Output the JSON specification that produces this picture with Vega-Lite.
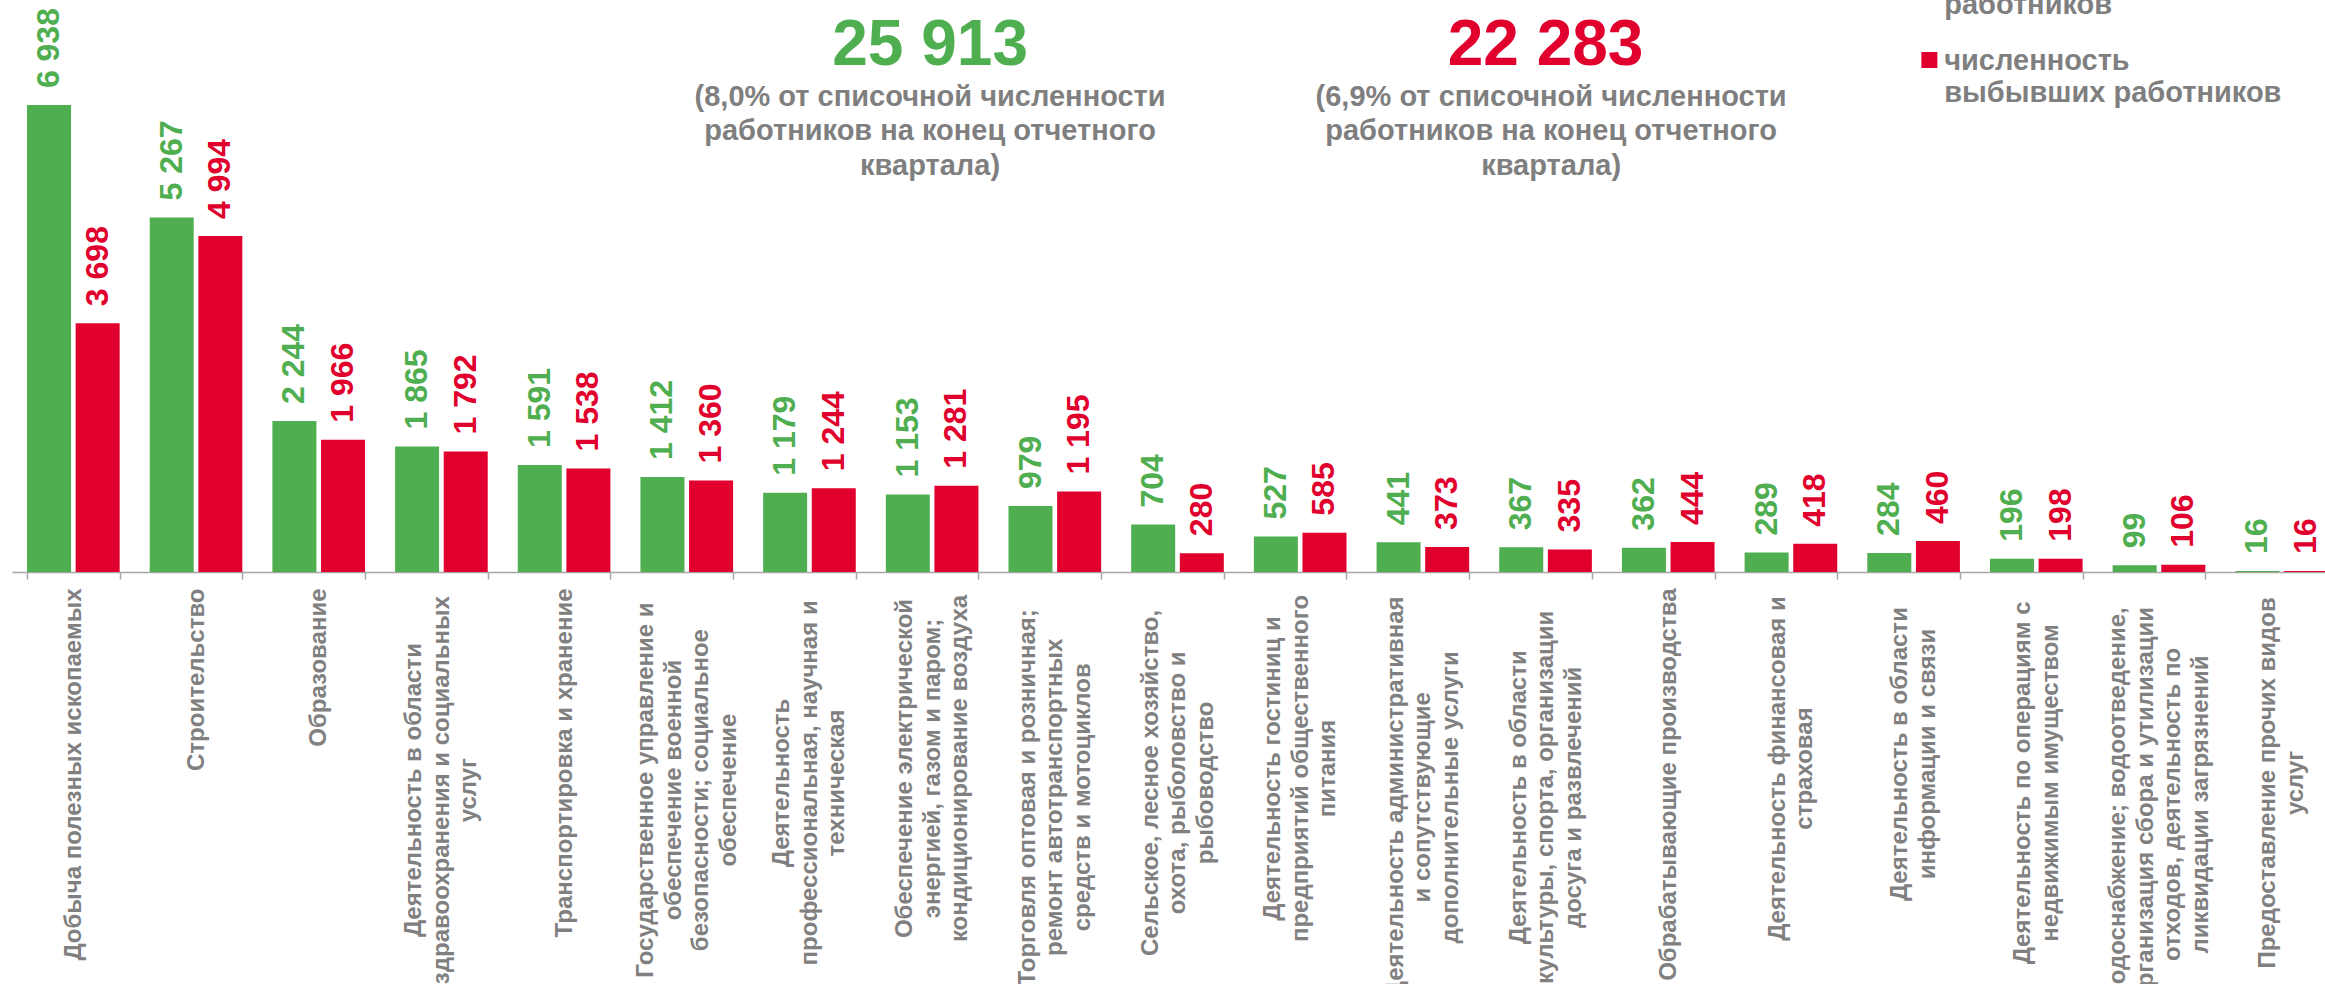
{
  "$schema": "https://vega.github.io/schema/vega-lite/v6.json",
  "width": 2313,
  "height": 572,
  "autosize": {"type": "none"},
  "padding": {"left": 12, "top": 0, "right": 0, "bottom": 412},
  "background": "white",
  "config": {
    "view": {"stroke": null},
    "font": "Liberation Sans",
    "locale": {"number": {"decimal": ",", "thousands": " ", "grouping": [3], "currency": ["", ""]}}
  },
  "data": {
    "values": [
      {"category": "Добыча полезных ископаемых", "series": "принятые", "value": 6938},
      {"category": "Добыча полезных ископаемых", "series": "выбывшие", "value": 3698},
      {"category": "Строительство", "series": "принятые", "value": 5267},
      {"category": "Строительство", "series": "выбывшие", "value": 4994},
      {"category": "Образование", "series": "принятые", "value": 2244},
      {"category": "Образование", "series": "выбывшие", "value": 1966},
      {"category": "Деятельность  в области\nздравоохранения и социальных\nуслуг", "series": "принятые", "value": 1865},
      {"category": "Деятельность  в области\nздравоохранения и социальных\nуслуг", "series": "выбывшие", "value": 1792},
      {"category": "Транспортировка и хранение", "series": "принятые", "value": 1591},
      {"category": "Транспортировка и хранение", "series": "выбывшие", "value": 1538},
      {"category": "Государственное управление и\nобеспечение военной\nбезопасности; социальное\nобеспечение", "series": "принятые", "value": 1412},
      {"category": "Государственное управление и\nобеспечение военной\nбезопасности; социальное\nобеспечение", "series": "выбывшие", "value": 1360},
      {"category": "Деятельность\nпрофессиональная, научная и\nтехническая", "series": "принятые", "value": 1179},
      {"category": "Деятельность\nпрофессиональная, научная и\nтехническая", "series": "выбывшие", "value": 1244},
      {"category": "Обеспечение электрической\nэнергией, газом и паром;\nкондиционирование воздуха", "series": "принятые", "value": 1153},
      {"category": "Обеспечение электрической\nэнергией, газом и паром;\nкондиционирование воздуха", "series": "выбывшие", "value": 1281},
      {"category": "Торговля оптовая и розничная;\nремонт автотранспортных\nсредств и мотоциклов", "series": "принятые", "value": 979},
      {"category": "Торговля оптовая и розничная;\nремонт автотранспортных\nсредств и мотоциклов", "series": "выбывшие", "value": 1195},
      {"category": "Сельское, лесное хозяйство,\nохота, рыболовство и\nрыбоводство", "series": "принятые", "value": 704},
      {"category": "Сельское, лесное хозяйство,\nохота, рыболовство и\nрыбоводство", "series": "выбывшие", "value": 280},
      {"category": "Деятельность гостиниц и\nпредприятий общественного\nпитания", "series": "принятые", "value": 527},
      {"category": "Деятельность гостиниц и\nпредприятий общественного\nпитания", "series": "выбывшие", "value": 585},
      {"category": "Деятельность административная\nи сопутствующие\nдополнительные услуги", "series": "принятые", "value": 441},
      {"category": "Деятельность административная\nи сопутствующие\nдополнительные услуги", "series": "выбывшие", "value": 373},
      {"category": "Деятельность  в области\nкультуры, спорта, организации\nдосуга и развлечений", "series": "принятые", "value": 367},
      {"category": "Деятельность  в области\nкультуры, спорта, организации\nдосуга и развлечений", "series": "выбывшие", "value": 335},
      {"category": "Обрабатывающие производства", "series": "принятые", "value": 362},
      {"category": "Обрабатывающие производства", "series": "выбывшие", "value": 444},
      {"category": "Деятельность финансовая и\nстраховая", "series": "принятые", "value": 289},
      {"category": "Деятельность финансовая и\nстраховая", "series": "выбывшие", "value": 418},
      {"category": "Деятельность  в области\nинформации и связи", "series": "принятые", "value": 284},
      {"category": "Деятельность  в области\nинформации и связи", "series": "выбывшие", "value": 460},
      {"category": "Деятельность по операциям с\nнедвижимым имуществом", "series": "принятые", "value": 196},
      {"category": "Деятельность по операциям с\nнедвижимым имуществом", "series": "выбывшие", "value": 198},
      {"category": "Водоснабжение; водоотведение,\nорганизация сбора и утилизации\nотходов, деятельность по\nликвидации загрязнений", "series": "принятые", "value": 99},
      {"category": "Водоснабжение; водоотведение,\nорганизация сбора и утилизации\nотходов, деятельность по\nликвидации загрязнений", "series": "выбывшие", "value": 106},
      {"category": "Предоставление прочих видов\nуслуг", "series": "принятые", "value": 16},
      {"category": "Предоставление прочих видов\nуслуг", "series": "выбывшие", "value": 16}
    ]
  },
  "layer": [
    {
      "mark": {"type": "bar"},
      "encoding": {
        "x": {
          "field": "category", "type": "nominal", "sort": null,
          "scale": {"range": [0, 2331], "paddingInner": 0.245, "paddingOuter": 0.1225},
          "axis": {
            "title": null,
            "labelAngle": -90,
            "labelAlign": {
              "condition": {"test": "indexof(datum.label, '\\n') < 0", "value": "right"},
              "value": "center"
            },
            "labelBaseline": "middle",
            "labelFont": "Liberation Sans",
            "labelFontSize": 24,
            "labelFontWeight": "bold",
            "labelColor": "#808080",
            "labelLineHeight": 27.5,
            "labelExpr": "split(datum.label, '\\n')",
            "labelOffset": {
              "condition": [
                {"test": "length(split(datum.label, '\\n')) == 2", "value": -13.75},
                {"test": "length(split(datum.label, '\\n')) == 3", "value": -27.5},
                {"test": "length(split(datum.label, '\\n')) == 4", "value": -41.25}
              ],
              "value": 0
            },
            "labelPadding": {
              "expr": "indexof(datum.label, '\\n') < 0 ? 9 : 9 + 7.2 * max(length(split(datum.label, '\\n')[0]), length(split(datum.label, '\\n')[1] || ''), length(split(datum.label, '\\n')[2] || ''), length(split(datum.label, '\\n')[3] || ''))"
            },
            "labelLimit": 0,
            "labelOverlap": false,
            "labelBound": false,
            "labelFlush": false,
            "tickBand": "extent",
            "tickSize": 7,
            "tickColor": "#a6a6a6",
            "tickWidth": 1.5,
            "domainColor": "#a6a6a6",
            "domainWidth": 1.5,
            "grid": false
          }
        },
        "xOffset": {
          "field": "series", "type": "nominal", "sort": ["принятые", "выбывшие"],
          "scale": {"paddingInner": 0.095, "paddingOuter": 0}
        },
        "y": {
          "field": "value", "type": "quantitative",
          "scale": {"domain": [0, 8500], "nice": false, "zero": true},
          "axis": null
        },
        "color": {
          "field": "series", "type": "nominal",
          "scale": {"domain": ["принятые", "выбывшие"], "range": ["#4FAE50", "#E1002D"]},
          "legend": null
        }
      }
    },
    {
      "mark": {"type": "text", "angle": 270, "align": "left", "baseline": "middle", "dx": 17, "fontSize": 32, "fontWeight": "bold", "font": "Liberation Sans"},
      "encoding": {
        "x": {"field": "category", "type": "nominal", "sort": null},
        "xOffset": {"field": "series", "type": "nominal", "sort": ["принятые", "выбывшие"]},
        "y": {"field": "value", "type": "quantitative"},
        "text": {"field": "value", "type": "quantitative", "format": ","},
        "color": {"field": "series", "type": "nominal", "legend": null}
      }
    },
    {
      "data": {"values": [{}]},
      "mark": {"type": "text", "align": "center", "baseline": "alphabetic", "fontSize": 64, "fontWeight": "bold", "font": "Liberation Sans", "color": "#4FAE50"},
      "encoding": {
        "x": {"datum": "Обеспечение электрической\nэнергией, газом и паром;\nкондиционирование воздуха", "type": "nominal", "bandPosition": 0.478},
        "y": {"datum": 7534, "type": "quantitative"},
        "text": {"value": "25 913"}
      }
    },
    {
      "data": {"values": [{}]},
      "mark": {"type": "text", "align": "center", "baseline": "alphabetic", "fontSize": 29, "fontWeight": "bold", "font": "Liberation Sans", "color": "#7F7F7F", "lineHeight": 34.5},
      "encoding": {
        "x": {"datum": "Обеспечение электрической\nэнергией, газом и паром;\nкондиционирование воздуха", "type": "nominal", "bandPosition": 0.478},
        "y": {"datum": 6925, "type": "quantitative"},
        "text": {"value": ["(8,0% от списочной численности", "работников на конец отчетного", "квартала)"]}
      }
    },
    {
      "data": {"values": [{}]},
      "mark": {"type": "text", "align": "center", "baseline": "alphabetic", "fontSize": 64, "fontWeight": "bold", "font": "Liberation Sans", "color": "#E1002D"},
      "encoding": {
        "x": {"datum": "Деятельность  в области\nкультуры, спорта, организации\nдосуга и развлечений", "type": "nominal", "bandPosition": 0.5},
        "y": {"datum": 7534, "type": "quantitative"},
        "text": {"value": "22 283"}
      }
    },
    {
      "data": {"values": [{}]},
      "mark": {"type": "text", "align": "center", "baseline": "alphabetic", "fontSize": 29, "fontWeight": "bold", "font": "Liberation Sans", "color": "#7F7F7F", "lineHeight": 34.5},
      "encoding": {
        "x": {"datum": "Деятельность  в области\nкультуры, спорта, организации\nдосуга и развлечений", "type": "nominal", "bandPosition": 0.56},
        "y": {"datum": 6925, "type": "quantitative"},
        "text": {"value": ["(6,9% от списочной численности", "работников на конец отчетного", "квартала)"]}
      }
    },
    {
      "data": {"values": [{}]},
      "mark": {"type": "square", "size": 256, "filled": true, "opacity": 1, "color": "#E1002D"},
      "encoding": {
        "x": {"datum": "Деятельность  в области\nинформации и связи", "type": "nominal", "bandPosition": 0.67},
        "y": {"datum": 7608, "type": "quantitative"}
      }
    },
    {
      "data": {"values": [{}]},
      "mark": {"type": "text", "align": "left", "baseline": "alphabetic", "fontSize": 29, "fontWeight": "bold", "font": "Liberation Sans", "color": "#7F7F7F", "lineHeight": 32},
      "encoding": {
        "x": {"datum": "Деятельность  в области\nинформации и связи", "type": "nominal", "bandPosition": 0.83},
        "y": {"datum": 7460, "type": "quantitative"},
        "text": {"value": ["численность", "выбывших работников"]}
      }
    },
    {
      "data": {"values": [{}]},
      "mark": {"type": "text", "align": "left", "baseline": "alphabetic", "fontSize": 29, "fontWeight": "bold", "font": "Liberation Sans", "color": "#7F7F7F"},
      "encoding": {
        "x": {"datum": "Деятельность  в области\nинформации и связи", "type": "nominal", "bandPosition": 0.83},
        "y": {"datum": 8292, "type": "quantitative"},
        "text": {"value": "работников"}
      }
    }
  ]
}
